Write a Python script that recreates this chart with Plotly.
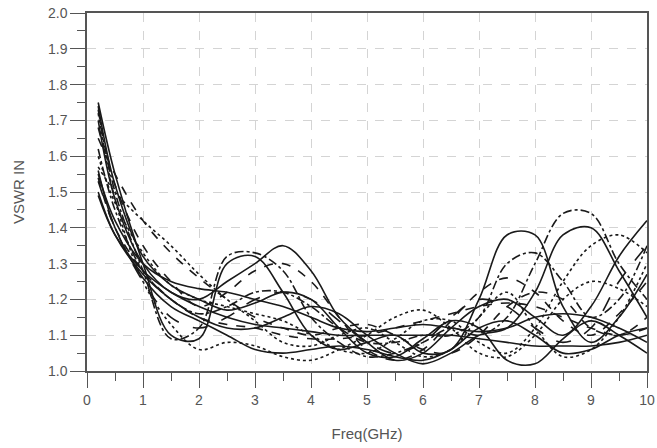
import plotly.graph_objects as go

freq = [0.2, 0.5, 1, 1.5, 2, 2.5, 3, 3.5, 4, 4.5, 5, 5.5, 6, 6.5, 7, 7.5, 8, 8.5, 9, 9.5, 10]

s1 = [1.75, 1.55, 1.30, 1.10, 1.09, 1.30, 1.32, 1.22, 1.10, 1.06, 1.08, 1.10, 1.05, 1.06, 1.20, 1.38, 1.38, 1.18, 1.08, 1.15, 1.27]
s2 = [1.73, 1.50, 1.28, 1.09, 1.12, 1.32, 1.33, 1.28, 1.15, 1.08, 1.04, 1.05, 1.08, 1.12, 1.10, 1.15, 1.30, 1.44, 1.44, 1.30, 1.20]
s3 = [1.70, 1.48, 1.30, 1.22, 1.20, 1.25, 1.30, 1.35, 1.28, 1.15, 1.08, 1.03, 1.05, 1.12, 1.18, 1.20, 1.15, 1.10, 1.18, 1.32, 1.42]
s4 = [1.65, 1.55, 1.42, 1.33, 1.26, 1.20, 1.15, 1.12, 1.10, 1.12, 1.13, 1.10, 1.06, 1.05, 1.10, 1.18, 1.22, 1.20, 1.12, 1.10, 1.15]
s5 = [1.57, 1.50, 1.42, 1.35, 1.27, 1.20, 1.14, 1.08, 1.07, 1.10, 1.12, 1.08, 1.04, 1.06, 1.15, 1.22, 1.12, 1.04, 1.06, 1.15, 1.30]
s6 = [1.55, 1.42, 1.30, 1.25, 1.23, 1.22, 1.20, 1.18, 1.15, 1.12, 1.11, 1.12, 1.13, 1.12, 1.11, 1.12, 1.15, 1.16, 1.15, 1.12, 1.08]
s7 = [1.53, 1.40, 1.25, 1.15, 1.12, 1.15, 1.20, 1.22, 1.20, 1.14, 1.08, 1.05, 1.08, 1.15, 1.20, 1.18, 1.12, 1.08, 1.12, 1.25, 1.35]
s8 = [1.49, 1.38, 1.28, 1.22, 1.18, 1.15, 1.13, 1.12, 1.11, 1.10, 1.10, 1.10, 1.10, 1.10, 1.09, 1.08, 1.07, 1.07, 1.07, 1.08, 1.10]
s9 = [1.72, 1.48, 1.25, 1.13, 1.06, 1.08, 1.07, 1.04, 1.03, 1.06, 1.10, 1.15, 1.17, 1.12, 1.05, 1.04, 1.10, 1.20, 1.25, 1.23, 1.18]
s10 = [1.68, 1.52, 1.35, 1.25, 1.18, 1.22, 1.28, 1.30, 1.25, 1.15, 1.06, 1.03, 1.06, 1.14, 1.22, 1.26, 1.22, 1.14, 1.10, 1.16, 1.25]
s11 = [1.56, 1.40, 1.26, 1.18, 1.14, 1.10, 1.06, 1.05, 1.06, 1.07, 1.06, 1.04, 1.03, 1.06, 1.12, 1.14, 1.10, 1.05, 1.06, 1.10, 1.12]
s12 = [1.62, 1.45, 1.28, 1.20, 1.16, 1.18, 1.22, 1.22, 1.18, 1.12, 1.08, 1.08, 1.10, 1.10, 1.15, 1.30, 1.33, 1.25, 1.15, 1.20, 1.35]
s13 = [1.50, 1.38, 1.27, 1.20, 1.15, 1.12, 1.12, 1.15, 1.18, 1.16, 1.10, 1.05, 1.02, 1.05, 1.10, 1.12, 1.22, 1.38, 1.40, 1.28, 1.15]
s14 = [1.60, 1.47, 1.33, 1.24, 1.20, 1.18, 1.16, 1.14, 1.10, 1.06, 1.05, 1.09, 1.14, 1.14, 1.08, 1.05, 1.12, 1.25, 1.35, 1.38, 1.33]
s15 = [1.74, 1.52, 1.32, 1.24, 1.20, 1.17, 1.19, 1.22, 1.20, 1.12, 1.05, 1.04, 1.09, 1.14, 1.12, 1.03, 1.02, 1.09, 1.14, 1.10, 1.05]
s16 = [1.54, 1.40, 1.28, 1.20, 1.15, 1.13, 1.12, 1.10, 1.09, 1.09, 1.10, 1.12, 1.14, 1.16, 1.18, 1.19, 1.18, 1.15, 1.12, 1.10, 1.12]

series = [s1, s2, s3, s4, s5, s6, s7, s8, s9, s10, s11, s12, s13, s14, s15, s16]
dashes = ["solid", "dashdot", "solid", "dash", "dot", "solid", "longdash", "solid",
          "dot", "dash", "solid", "dashdot", "solid", "dot", "solid", "dash"]

x_ticks = list(range(0, 11))
y_ticks = [1.0, 1.1, 1.2, 1.3, 1.4, 1.5, 1.6, 1.7, 1.8, 1.9, 2.0]

fig = go.Figure()
for vals, d in zip(series, dashes):
    fig.add_trace(go.Scatter(x=freq, y=vals, mode="lines",
                             line=dict(color="#1a1a1a", width=1.6, dash=d,
                                       shape="spline", smoothing=1.0),
                             showlegend=False, hoverinfo="skip"))

font = dict(family="Liberation Sans, Arial, sans-serif", color="#555555")
fig.update_layout(
    width=657, height=448,
    margin=dict(l=87, r=10, t=13, b=77),
    paper_bgcolor="white", plot_bgcolor="white",
    font=font,
    xaxis=dict(range=[0, 10], tickvals=x_ticks, ticks="outside", ticklen=15,
               tickcolor="#555555", tickwidth=1.3, automargin=False,
               minor=dict(ticks="outside", dtick=0.5, ticklen=8, tickcolor="#555555", showgrid=False),
               showline=True, linecolor="#555555", linewidth=1.5, mirror=True,
               showgrid=True, gridcolor="#d4d4d4", griddash="dash", gridwidth=1,
               zeroline=False, tickfont=dict(size=14),
               title=dict(text="Freq(GHz)", font=dict(size=15), standoff=22)),
    yaxis=dict(range=[1.0, 2.0], tickvals=y_ticks, tickformat=".1f", ticks="outside", ticklen=15,
               tickcolor="#555555", tickwidth=1.3, automargin=False,
               minor=dict(ticks="outside", dtick=0.05, ticklen=8, tickcolor="#555555", showgrid=False),
               showline=True, linecolor="#555555", linewidth=1.5, mirror=True,
               showgrid=True, gridcolor="#d4d4d4", griddash="dash", gridwidth=1,
               zeroline=False, tickfont=dict(size=14),
               title=dict(text="VSWR IN", font=dict(size=15), standoff=20)),
)

fig.write_html("out.html", config={"displayModeBar": False},
               post_script="document.body.style.margin='0';document.body.style.overflow='hidden';")
